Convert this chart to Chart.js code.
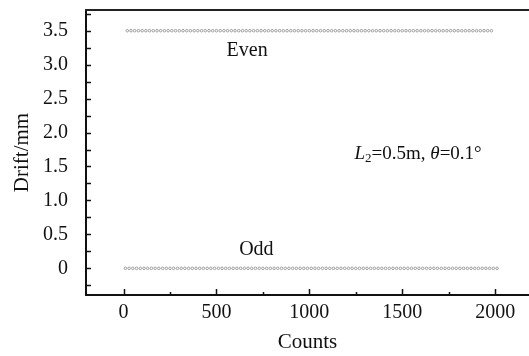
<!DOCTYPE html>
<html>
<head>
<meta charset="utf-8">
<script src="https://cdn.jsdelivr.net/npm/chart.js@4/dist/chart.umd.min.js"></script>
<style>
  html, body { margin: 0; padding: 0; background: #fff; }
  #wrap { width: 529px; height: 356px; }
</style>
</head>
<body>
<div id="wrap"><canvas id="driftChart" width="529" height="356"></canvas></div>
<script>
// counts where the Even / Odd drifts were sampled
const evenCounts = [
  20, 40, 60, 80, 100, 120, 140, 160, 180, 200, 220, 240, 260, 280, 300, 320, 340, 360, 380, 400,
  420, 440, 460, 480, 500, 520, 540, 560, 580, 600, 620, 640, 660, 680, 700, 720, 740, 760, 780, 800,
  820, 840, 860, 880, 900, 920, 940, 960, 980, 1000, 1020, 1040, 1060, 1080, 1100, 1120, 1140, 1160, 1180, 1200,
  1220, 1240, 1260, 1280, 1300, 1320, 1340, 1360, 1380, 1400, 1420, 1440, 1460, 1480, 1500, 1520, 1540, 1560, 1580, 1600,
  1620, 1640, 1660, 1680, 1700, 1720, 1740, 1760, 1780, 1800, 1820, 1840, 1860, 1880, 1900, 1920, 1940, 1960, 1980
];
const evenDrift = [
  3.5, 3.5, 3.5, 3.5, 3.5, 3.5, 3.5, 3.5, 3.5, 3.5, 3.5, 3.5, 3.5, 3.5, 3.5, 3.5, 3.5, 3.5, 3.5, 3.5,
  3.5, 3.5, 3.5, 3.5, 3.5, 3.5, 3.5, 3.5, 3.5, 3.5, 3.5, 3.5, 3.5, 3.5, 3.5, 3.5, 3.5, 3.5, 3.5, 3.5,
  3.5, 3.5, 3.5, 3.5, 3.5, 3.5, 3.5, 3.5, 3.5, 3.5, 3.5, 3.5, 3.5, 3.5, 3.5, 3.5, 3.5, 3.5, 3.5, 3.5,
  3.5, 3.5, 3.5, 3.5, 3.5, 3.5, 3.5, 3.5, 3.5, 3.5, 3.5, 3.5, 3.5, 3.5, 3.5, 3.5, 3.5, 3.5, 3.5, 3.5,
  3.5, 3.5, 3.5, 3.5, 3.5, 3.5, 3.5, 3.5, 3.5, 3.5, 3.5, 3.5, 3.5, 3.5, 3.5, 3.5, 3.5, 3.5, 3.5
];
const oddCounts = [
  10, 30, 50, 70, 90, 110, 130, 150, 170, 190, 210, 230, 250, 270, 290, 310, 330, 350, 370, 390,
  410, 430, 450, 470, 490, 510, 530, 550, 570, 590, 610, 630, 650, 670, 690, 710, 730, 750, 770, 790,
  810, 830, 850, 870, 890, 910, 930, 950, 970, 990, 1010, 1030, 1050, 1070, 1090, 1110, 1130, 1150, 1170, 1190,
  1210, 1230, 1250, 1270, 1290, 1310, 1330, 1350, 1370, 1390, 1410, 1430, 1450, 1470, 1490, 1510, 1530, 1550, 1570, 1590,
  1610, 1630, 1650, 1670, 1690, 1710, 1730, 1750, 1770, 1790, 1810, 1830, 1850, 1870, 1890, 1910, 1930, 1950, 1970, 1990, 2010
];
const oddDrift = [
  0, 0, 0, 0, 0, 0, 0, 0, 0, 0, 0, 0, 0, 0, 0, 0, 0, 0, 0, 0,
  0, 0, 0, 0, 0, 0, 0, 0, 0, 0, 0, 0, 0, 0, 0, 0, 0, 0, 0, 0,
  0, 0, 0, 0, 0, 0, 0, 0, 0, 0, 0, 0, 0, 0, 0, 0, 0, 0, 0, 0,
  0, 0, 0, 0, 0, 0, 0, 0, 0, 0, 0, 0, 0, 0, 0, 0, 0, 0, 0, 0,
  0, 0, 0, 0, 0, 0, 0, 0, 0, 0, 0, 0, 0, 0, 0, 0, 0, 0, 0, 0, 0
];

const xTicks = [0, 500, 1000, 1500, 2000];
const xMinorTicks = [250, 750, 1250, 1750];
const yTicks = [0, 0.5, 1.0, 1.5, 2.0, 2.5, 3.0, 3.5];
const yMinorTicks = [-0.25, 0.25, 0.75, 1.25, 1.75, 2.25, 2.75, 3.25, 3.75];
const yTickLabels = ['0', '0.5', '1.0', '1.5', '2.0', '2.5', '3.0', '3.5'];

const serif = 'Liberation Serif';

function toPoints(xs, ys) {
    return xs.map((x, i) => ({ x: x, y: ys[i] }));
}

// inward tick marks, top frame line and the text notes
const decorations = {
    id: 'decorations',
    afterDraw(chart) {
        const ctx = chart.ctx;
        const area = chart.chartArea;
        const xs = chart.scales.x;
        const ys = chart.scales.y;
        ctx.save();
        ctx.strokeStyle = '#111';
        ctx.lineWidth = 1.5;
        ctx.beginPath();
        xTicks.forEach(v => {
            const px = Math.round(xs.getPixelForValue(v)) + 0.5;
            ctx.moveTo(px, area.bottom); ctx.lineTo(px, area.bottom - 6);
        });
        xMinorTicks.forEach(v => {
            const px = Math.round(xs.getPixelForValue(v)) + 0.5;
            ctx.moveTo(px, area.bottom); ctx.lineTo(px, area.bottom - 3);
        });
        yTicks.concat(yMinorTicks).forEach(v => {
            const py = Math.round(ys.getPixelForValue(v)) + 0.5;
            ctx.moveTo(area.left, py); ctx.lineTo(area.left + 5, py);
        });
        ctx.stroke();

        ctx.lineWidth = 2;
        ctx.strokeStyle = '#222';
        ctx.beginPath();
        ctx.moveTo(area.left - 1, area.top);
        ctx.lineTo(chart.width, area.top);
        ctx.stroke();

        ctx.fillStyle = '#111';
        ctx.textBaseline = 'middle';
        ctx.textAlign = 'center';
        ctx.font = '20px "' + serif + '"';
        ctx.fillText('Even', xs.getPixelForValue(665), ys.getPixelForValue(3.2));
        ctx.fillText('Odd', xs.getPixelForValue(715), ys.getPixelForValue(0.27));

        // L2=0.5m, θ=0.1°
        let px = xs.getPixelForValue(1243);
        const py = ys.getPixelForValue(1.69);
        ctx.textAlign = 'left';
        const parts = [
            { t: 'L', f: 'italic 19px "' + serif + '"', dy: 0 },
            { t: '2', f: '13px "' + serif + '"', dy: 5 },
            { t: '=0.5m, ', f: '19px "' + serif + '"', dy: 0 },
            { t: 'θ', f: 'italic 19px "' + serif + '"', dy: 0 },
            { t: '=0.1°', f: '19px "' + serif + '"', dy: 0 }
        ];
        parts.forEach(p => {
            ctx.font = p.f;
            ctx.fillText(p.t, px, py + p.dy);
            px += ctx.measureText(p.t).width;
        });
        ctx.restore();
    }
};

const ctx = document.getElementById('driftChart').getContext('2d');
new Chart(ctx, {
    type: 'scatter',
    data: {
        datasets: [{
            label: 'Even',
            data: toPoints(evenCounts, evenDrift),
            borderColor: '#8a8a8a',
            backgroundColor: '#ffffff',
            borderWidth: 0.8,
            pointRadius: 1.3
        }, {
            label: 'Odd',
            data: toPoints(oddCounts, oddDrift),
            borderColor: '#8a8a8a',
            backgroundColor: '#ffffff',
            borderWidth: 0.8,
            pointRadius: 1.3
        }]
    },
    options: {
        responsive: false,
        animation: false,
        layout: { autoPadding: false, padding: { top: 10, right: 0, left: 0, bottom: 0 } },
        plugins: {
            legend: { display: false },
            tooltip: { enabled: false }
        },
        scales: {
            x: {
                type: 'linear',
                min: -202,
                max: 2182,
                afterFit: scale => {
                    scale.height = 61;
                    scale.paddingLeft = 0;
                    scale.paddingRight = 0;
                },
                afterBuildTicks: scale => { scale.ticks = xTicks.map(v => ({ value: v })); },
                grid: { display: false, drawTicks: false },
                border: { display: true, color: '#111', width: 2 },
                ticks: {
                    padding: 6,
                    color: '#111',
                    maxRotation: 0,
                    font: { family: serif, size: 20 },
                    callback: v => String(v)
                },
                title: {
                    display: true,
                    text: 'Counts',
                    color: '#111',
                    font: { family: serif, size: 21 },
                    padding: { top: 0, bottom: 1 }
                }
            },
            y: {
                type: 'linear',
                min: -0.393,
                max: 3.805,
                afterFit: scale => {
                    scale.width = 86;
                    scale.paddingTop = 0;
                    scale.paddingBottom = 0;
                },
                afterBuildTicks: scale => { scale.ticks = yTicks.map(v => ({ value: v })); },
                grid: { display: false, drawTicks: false },
                border: { display: true, color: '#111', width: 2 },
                ticks: {
                    padding: 18,
                    color: '#111',
                    font: { family: serif, size: 20 },
                    callback: (v, i) => yTickLabels[i]
                },
                title: {
                    display: true,
                    text: 'Drift/mm',
                    color: '#111',
                    font: { family: serif, size: 21 },
                    padding: { top: 10, bottom: 0 }
                }
            }
        }
    },
    plugins: [decorations]
});
</script>
</body>
</html>
